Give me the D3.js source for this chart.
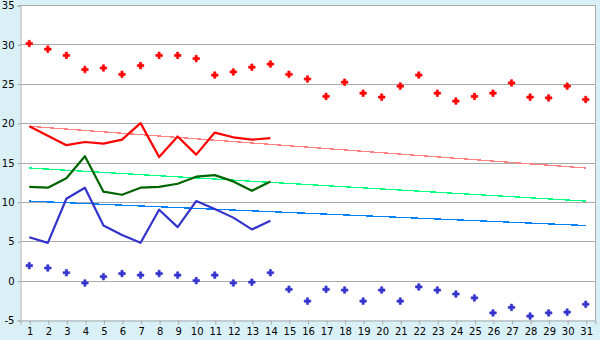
<!DOCTYPE html>
<html>
<head>
<meta charset="utf-8">
<script src="https://cdn.jsdelivr.net/npm/d3@7"></script>
<style>
  body { margin: 0; background: #daf0f7; }
  svg { display: block; font-family: "DejaVu Sans", Verdana, sans-serif; }
</style>
</head>
<body>
<svg id="chart" width="600" height="340"></svg>
<script>
// datos
const days = d3.range(1, 32);
const recordMax = [30.1, 29.4, 28.6, 26.8, 27.0, 26.2, 27.3, 28.6, 28.6, 28.2, 26.1, 26.5, 27.1, 27.5, 26.2, 25.6,
    23.4, 25.2, 23.8, 23.3, 24.7, 26.1, 23.8, 22.8, 23.4, 23.8, 25.1, 23.3, 23.2, 24.7, 23.0];
const recordMin = [1.9, 1.6, 1.0, -0.3, 0.5, 0.9, 0.7, 0.9, 0.7, 0.0, 0.7, -0.3, -0.2, 1.0, -1.1, -2.6,
    -1.1, -1.2, -2.6, -1.2, -2.6, -0.8, -1.2, -1.7, -2.2, -4.1, -3.4, -4.5, -4.1, -4.0, -3.0];
const avgMax = [19.6, 18.4, 17.2, 17.6, 17.4, 17.9, 20.0, 15.7, 18.3, 16.0, 18.8, 18.2, 17.9, 18.1];
const avgMean = [11.9, 11.8, 13.0, 15.8, 11.3, 10.9, 11.8, 11.9, 12.3, 13.2, 13.4, 12.6, 11.4, 12.6];
const avgMin = [5.5, 4.8, 10.4, 11.8, 7.0, 5.8, 4.8, 9.0, 6.8, 10.1, 9.1, 8.0, 6.5, 7.6];
// tendencias (día 1 y día 31)
const trendDays = [1, 31];
const trendMax = [19.6, 14.3];
const trendMean = [14.3, 10.1];
const trendMin = [10.1, 7.0];
const yTicks = [-5, 0, 5, 10, 15, 20, 25, 30, 35];

const svg = d3.select("#chart");
const plotLeft = 20, plotRight = 595, plotTop = 5, plotBottom = 320;

const x = d3.scaleLinear().domain([0.5, 31.5]).range([plotLeft, plotRight]);
const y = d3.scaleLinear().domain([-5, 35]).range([plotBottom, plotTop]);

// area del grafico
svg.append("rect")
    .attr("x", plotLeft).attr("y", plotTop)
    .attr("width", plotRight - plotLeft).attr("height", plotBottom - plotTop)
    .attr("fill", "white");

// lineas de la cuadricula
svg.append("g")
    .selectAll("line")
    .data(yTicks.filter(d => d > -5))
    .enter()
    .append("line")
    .attr("x1", plotLeft).attr("x2", plotRight)
    .attr("y1", d => Math.round(y(d)) + 0.5)
    .attr("y2", d => Math.round(y(d)) + 0.5)
    .attr("stroke", "#aaaaaa");

svg.append("line")
    .attr("x1", plotRight + 0.5).attr("x2", plotRight + 0.5)
    .attr("y1", plotTop).attr("y2", plotBottom)
    .attr("stroke", "#aaaaaa");

// ejes
const yAxis = svg.append("g")
    .attr("transform", `translate(${plotLeft + 0.5},0.5)`)
    .call(d3.axisLeft(y).tickValues(yTicks).tickSize(3).tickPadding(3).tickFormat(d => d));
const xAxis = svg.append("g")
    .attr("transform", `translate(0.5,${plotBottom + 0.5})`)
    .call(d3.axisBottom(x).tickValues(days).tickSize(4).tickPadding(3).tickFormat(d => d));

[yAxis, xAxis].forEach(a => {
    a.select(".domain").attr("stroke", "#aaaaaa");
    a.selectAll(".tick line").attr("stroke", "#aaaaaa");
    a.selectAll("text").attr("fill", "#000").style("font-size", "10px")
        .style("font-family", "'DejaVu Sans', Verdana, sans-serif");
});

// lineas de tendencia
const trendLine = d3.line().x((d, i) => x(trendDays[i])).y(d => y(d));
[[trendMax, "#ff8080"], [trendMean, "#00ff80"], [trendMin, "#0080ff"]].forEach(([data, color]) => {
    svg.append("path")
        .attr("d", trendLine(data))
        .attr("fill", "none")
        .attr("stroke", color)
        .attr("stroke-width", 1.3)
        .attr("shape-rendering", "crispEdges");
});

// lineas de promedio
const dayLine = d3.line().x((d, i) => x(days[i])).y(d => y(d));
[[avgMax, "#ff0000"], [avgMean, "#006400"], [avgMin, "#3333cc"]].forEach(([data, color]) => {
    svg.append("path")
        .attr("d", dayLine(data))
        .attr("fill", "none")
        .attr("stroke", color)
        .attr("stroke-width", 2.2)
        .attr("stroke-linejoin", "round");
});

// puntos de records
const sym = d3.symbol().type(d3.symbolCross).size(24);
[[recordMax, "#ff0000"], [recordMin, "#3333cc"]].forEach(([data, color]) => {
    svg.append("g")
        .selectAll("path")
        .data(data)
        .enter()
        .append("path")
        .attr("d", sym)
        .attr("transform", (d, i) => `translate(${x(days[i])},${y(d)})`)
        .attr("fill", color)
        .attr("stroke", color)
        .attr("stroke-width", 0.6);
});
</script>
</body>
</html>
